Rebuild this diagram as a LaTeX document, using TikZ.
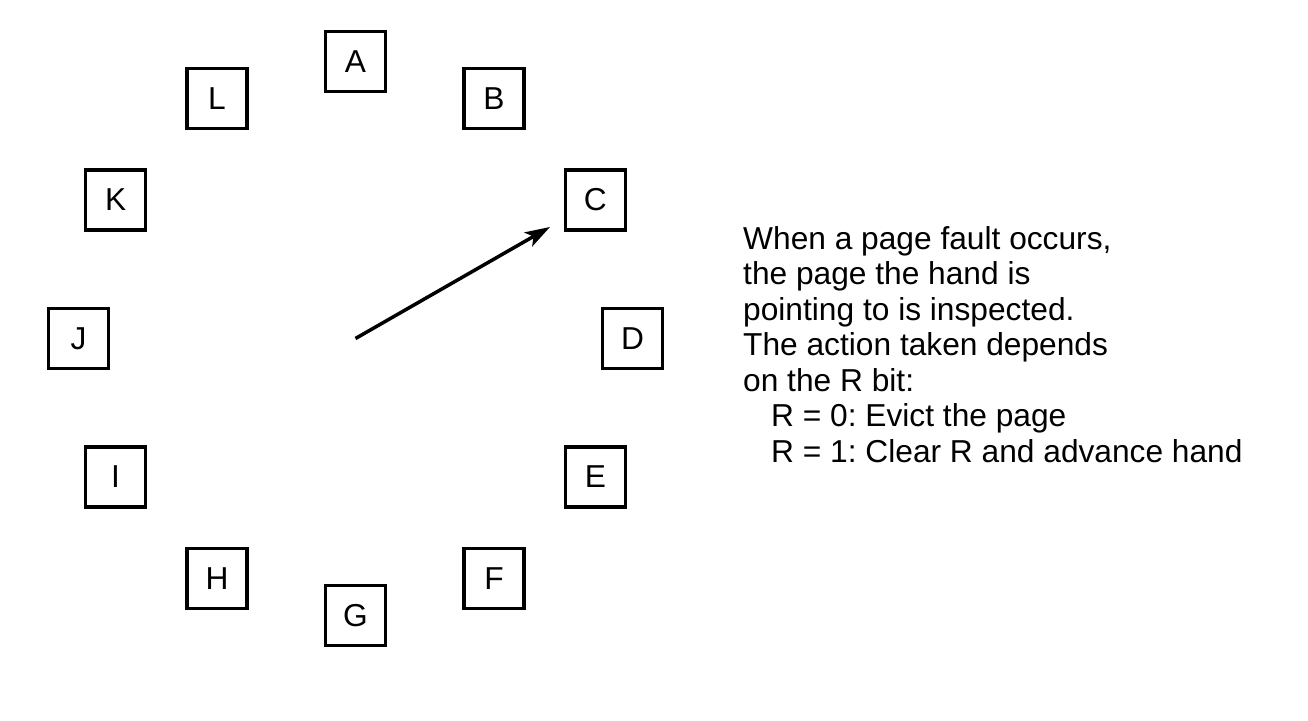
\documentclass[tikz,border=0pt]{standalone}
\usepackage{fontspec}
\setmainfont{Liberation Sans}
\usetikzlibrary{arrows.meta}
\frenchspacing
\begin{document}
\begin{tikzpicture}[
  x=1pt,y=1pt,
  pagebox/.style={draw=black, line width=3.2pt, minimum size=60pt, inner sep=0pt,
    font=\fontsize{31.7}{35.5}\selectfont},
  handline/.style={line width=3.5pt, -{Stealth[length=25pt,width=16pt,inset=6pt]}},
  note/.style={font=\fontsize{31.7}{35.5}\selectfont, align=left, inner sep=0pt, anchor=north west}
]
\useasboundingbox[fill=white] (0,0) rectangle (1308,720);
\coordinate (hub) at (355.5,381.5);
\begin{scope}[shift={(hub)}]
  \node[pagebox] (A) at (90:277pt) {A};
  \node[pagebox] (B) at (60:277pt) {B};
  \node[pagebox] (C) at (30:277pt) {C};
  \node[pagebox] (D) at (0:277pt) {D};
  \node[pagebox] (E) at (-30:277pt) {E};
  \node[pagebox] (F) at (-60:277pt) {F};
  \node[pagebox] (G) at (-90:277pt) {G};
  \node[pagebox] (H) at (-120:277pt) {H};
  \node[pagebox] (I) at (-150:277pt) {I};
  \node[pagebox] (J) at (180:277pt) {J};
  \node[pagebox] (K) at (150:277pt) {K};
  \node[pagebox] (L) at (120:277pt) {L};
\end{scope}
\coordinate (handtip) at (550,493);
\draw[handline] (hub) -- (handtip);
\node[note] (txt) at (743,494) {When a page fault occurs,\\
the page the hand is\\
pointing to is inspected.\\
The action taken depends\\
on the R bit:\\
\hspace*{28pt}R = 0: Evict the page\\
\hspace*{28pt}R = 1: Clear R and advance hand};
\end{tikzpicture}
\end{document}
